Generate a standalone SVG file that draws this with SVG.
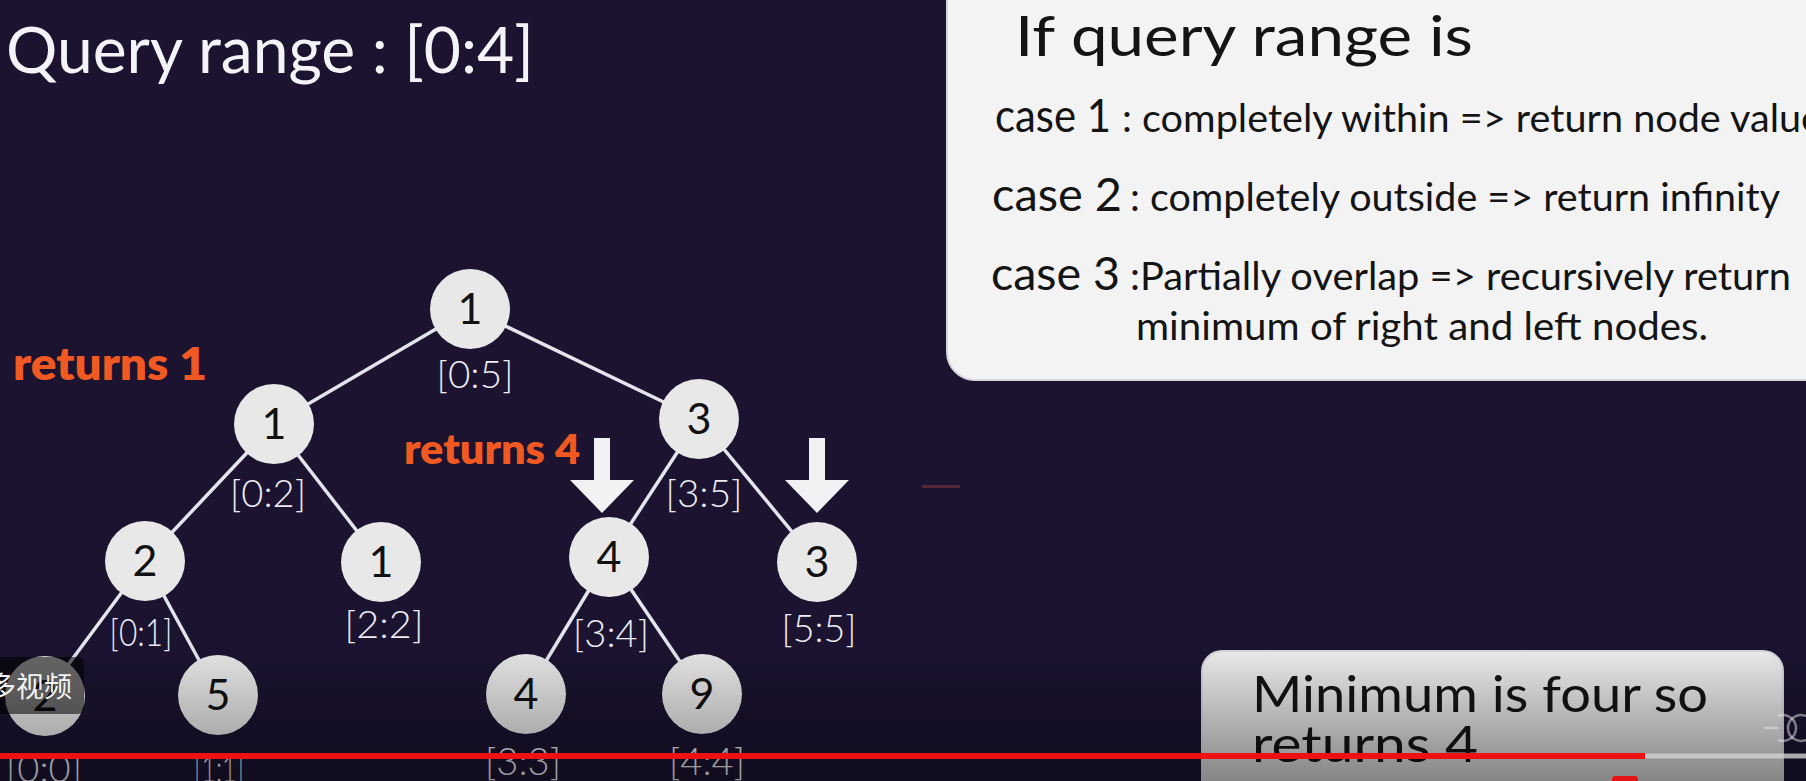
<svg xmlns="http://www.w3.org/2000/svg" width="1806" height="781" viewBox="0 0 1806 781">
<defs>
<style>
.bg{fill:#1b1330}
.edge{stroke:#e4e4ec;stroke-width:3.5;stroke-linecap:round}
.node{fill:#e8e8e8}
.val{font-family:Lato,"Liberation Sans",sans-serif;font-weight:400;font-size:43px;fill:#111;text-anchor:middle}
.rng{font-family:Lato,"Liberation Sans",sans-serif;font-weight:300;font-size:37px;fill:#ececf2;text-anchor:middle}
.title{font-family:Lato,"Liberation Sans",sans-serif;font-weight:400;fill:#f4f4f8}
.ret{font-family:Lato,"Liberation Sans",sans-serif;font-weight:800;fill:#f05a22}
.pt{font-family:Lato,"Liberation Sans",sans-serif;font-weight:400;fill:#141414}
.arrow{fill:#f2f2f4}
</style>
<linearGradient id="shade" x1="0" y1="0" x2="0" y2="1">
<stop offset="0" stop-color="#000" stop-opacity="0"/>
<stop offset="1" stop-color="#000" stop-opacity="0.38"/>
</linearGradient>
<linearGradient id="boxg" x1="0" y1="0" x2="0" y2="1">
<stop offset="0" stop-color="#f0f0f0"/>
<stop offset="1" stop-color="#d0d0d0"/>
</linearGradient>
</defs>
<rect class="bg" x="0" y="0" width="1806" height="781"/>

<text class="title" x="6" y="73" font-size="64" textLength="528" lengthAdjust="spacingAndGlyphs">Query range : [0:4]</text>

<text class="ret" x="13" y="380" font-size="45" textLength="194" lengthAdjust="spacingAndGlyphs">returns 1</text>
<text class="ret" x="404" y="464" font-size="41" textLength="176" lengthAdjust="spacingAndGlyphs">returns 4</text>

<g id="connectors">
<line class="edge" x1="470" y1="309" x2="274" y2="424"/>
<line class="edge" x1="470" y1="309" x2="699" y2="419"/>
<line class="edge" x1="274" y1="424" x2="145" y2="561"/>
<line class="edge" x1="274" y1="424" x2="381" y2="562"/>
<line class="edge" x1="699" y1="419" x2="609" y2="557"/>
<line class="edge" x1="699" y1="419" x2="817" y2="562"/>
<line class="edge" x1="145" y1="561" x2="45" y2="696"/>
<line class="edge" x1="145" y1="561" x2="218" y2="695"/>
<line class="edge" x1="609" y1="557" x2="526" y2="694"/>
<line class="edge" x1="609" y1="557" x2="702" y2="694"/>
</g>

<g id="n0"><circle class="node" cx="470" cy="309" r="40"/><text class="val" x="470" y="324">1</text><text class="rng" x="475" y="388" textLength="77" lengthAdjust="spacingAndGlyphs">[0:5]</text></g>
<g id="n1"><circle class="node" cx="274" cy="424" r="40"/><text class="val" x="274" y="439">1</text><text class="rng" x="268" y="507" textLength="76" lengthAdjust="spacingAndGlyphs">[0:2]</text></g>
<g id="n2"><circle class="node" cx="699" cy="419" r="40"/><text class="val" x="699" y="434">3</text><text class="rng" x="704" y="507" textLength="77" lengthAdjust="spacingAndGlyphs">[3:5]</text></g>
<g id="n3"><circle class="node" cx="145" cy="561" r="40"/><text class="val" x="145" y="576">2</text><text class="rng" x="141" y="646" textLength="63" lengthAdjust="spacingAndGlyphs">[0:1]</text></g>
<g id="n4"><circle class="node" cx="381" cy="562" r="40"/><text class="val" x="381" y="577">1</text><text class="rng" x="384" y="638" textLength="79" lengthAdjust="spacingAndGlyphs">[2:2]</text></g>
<g id="n5"><circle class="node" cx="609" cy="557" r="40"/><text class="val" x="609" y="572">4</text><text class="rng" x="611" y="647" textLength="76" lengthAdjust="spacingAndGlyphs">[3:4]</text></g>
<g id="n6"><circle class="node" cx="817" cy="562" r="40"/><text class="val" x="817" y="577">3</text><text class="rng" x="819" y="642" textLength="75" lengthAdjust="spacingAndGlyphs">[5:5]</text></g>
<g id="n7"><circle class="node" cx="45" cy="696" r="40"/><text class="val" x="45" y="711">2</text><text class="rng" x="44" y="782" textLength="76" lengthAdjust="spacingAndGlyphs">[0:0]</text></g>
<g id="n8"><circle class="node" cx="218" cy="695" r="40"/><text class="val" x="218" y="710">5</text><text class="rng" x="219" y="782" textLength="50" lengthAdjust="spacingAndGlyphs">[1:1]</text></g>
<g id="n9"><circle class="node" cx="526" cy="694" r="40"/><text class="val" x="526" y="709">4</text><text class="rng" x="523" y="775" textLength="76" lengthAdjust="spacingAndGlyphs">[3:3]</text></g>
<g id="n10"><circle class="node" cx="702" cy="694" r="40"/><text class="val" x="702" y="709">9</text><text class="rng" x="707" y="775" textLength="76" lengthAdjust="spacingAndGlyphs">[4:4]</text></g>

<g id="arrows">
<polygon class="arrow" points="594,438 610,438 610,480 634,480 602,513 570,480 594,480"/>
<polygon class="arrow" points="809,438 825,438 825,480 849,480 817,513 785,480 809,480"/>
</g>

<rect x="922" y="485" width="38" height="3" fill="#7a3540" opacity="0.6"/>

<g id="rules">
<rect x="947" y="-40" width="920" height="420" rx="28" fill="#f3f3f3" stroke="#d6d6de" stroke-width="2"/>
<text class="pt" x="1015" y="56" font-size="56" textLength="458" lengthAdjust="spacingAndGlyphs">If query range is</text>
<text class="pt" x="995" y="132" font-size="46" textLength="116" lengthAdjust="spacingAndGlyphs">case 1</text>
<text class="pt" x="1122" y="132" font-size="38" textLength="700" lengthAdjust="spacingAndGlyphs">: completely within =&gt; return node value</text>
<text class="pt" x="992" y="211" font-size="46" textLength="130" lengthAdjust="spacingAndGlyphs">case 2</text>
<text class="pt" x="1130" y="211" font-size="38" textLength="650" lengthAdjust="spacingAndGlyphs">: completely outside =&gt; return infinity</text>
<text class="pt" x="991" y="290" font-size="46" textLength="129" lengthAdjust="spacingAndGlyphs">case 3</text>
<text class="pt" x="1130" y="290" font-size="38" textLength="661" lengthAdjust="spacingAndGlyphs">:Partially overlap =&gt; recursively return</text>
<text class="pt" x="1136" y="340" font-size="38" textLength="572" lengthAdjust="spacingAndGlyphs">minimum of right and left nodes.</text>
</g>

<g id="result">
<rect x="1202" y="651" width="581" height="170" rx="20" fill="url(#boxg)" stroke="#d8d8de" stroke-width="2"/>
<text class="pt" x="1252" y="712" font-size="50" textLength="456" lengthAdjust="spacingAndGlyphs">Minimum is four so</text>
<text class="pt" x="1252" y="762" font-size="50" textLength="226" lengthAdjust="spacingAndGlyphs">returns 4</text>
</g>

<rect x="0" y="640" width="1806" height="141" fill="url(#shade)"/>

<g id="player">
<rect x="-10" y="657" width="94" height="57" rx="6" fill="#000" opacity="0.55"/>
<text x="-12" y="697" font-family="'Noto Sans CJK SC',sans-serif" font-size="28" fill="#f2f2f2">多视频</text>
<path d="M1778,716 a13,13 0 1 1 0,24 M1778,728 h-14" fill="none" stroke="#e8e8e8" stroke-width="2.5" opacity="0.5"/>
<path d="M1806,716 a13,13 0 1 0 0,24" fill="none" stroke="#e8e8e8" stroke-width="2.5" opacity="0.5"/>
<rect x="1645" y="753.5" width="161" height="5" fill="#d2d2d2" opacity="0.8"/>
<rect x="0" y="753" width="1645" height="6" fill="#ee1111"/>
<rect x="1612" y="776" width="26" height="12" rx="3" fill="#e51414"/>
</g>
</svg>
